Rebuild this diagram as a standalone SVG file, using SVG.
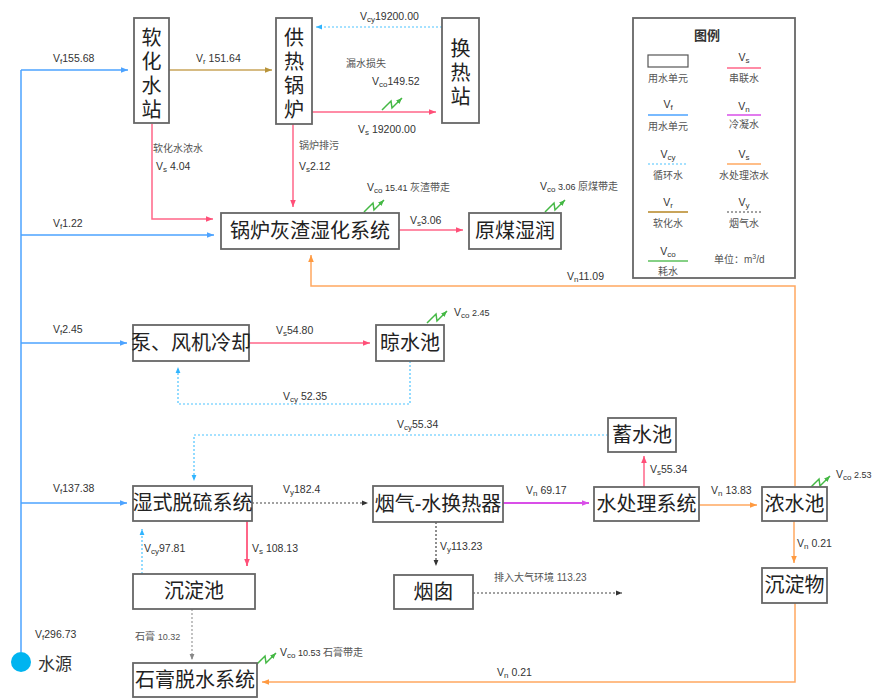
<svg xmlns="http://www.w3.org/2000/svg" width="881" height="699" viewBox="0 0 881 699">
<style>
text{font-family:"Liberation Sans","Noto Sans CJK SC",sans-serif;fill:#333}
.box{fill:#fff;stroke:#666;stroke-width:1.8}
.bt{font-size:20px;fill:#222;text-anchor:middle}
.lb{font-size:10.5px}
.cn{font-size:10px;fill:#555}
.sub{font-size:8px}
.ln{fill:none;stroke-width:1.5}
.blue{stroke:#4da3ff}
.pink{stroke:#ff6688}
.tan{stroke:#c8a45a}
.cyan{stroke:#4cc3ff;stroke-dasharray:2 2;stroke-width:1.2}
.orange{stroke:#ffa860}
.purple{stroke:#d94fe8;stroke-width:2}
.blk{stroke:#444;stroke-dasharray:2 2;stroke-width:1.2}
.gray{stroke:#999;stroke-dasharray:2 2;stroke-width:1.2}
.grn{fill:none;stroke:#44b844;stroke-width:1.5}
.lc{text-anchor:middle}
</style>
<defs>
<marker id="aBlue" viewBox="0 0 10 10" refX="10" refY="5" markerWidth="7" markerHeight="7" markerUnits="userSpaceOnUse" orient="auto"><path d="M0,1L10,5L0,9z" fill="#4da3ff"/></marker>
<marker id="aPink" viewBox="0 0 10 10" refX="10" refY="5" markerWidth="7" markerHeight="7" markerUnits="userSpaceOnUse" orient="auto"><path d="M0,1L10,5L0,9z" fill="#ff4f78"/></marker>
<marker id="aTan" viewBox="0 0 10 10" refX="10" refY="5" markerWidth="7" markerHeight="7" markerUnits="userSpaceOnUse" orient="auto"><path d="M0,1L10,5L0,9z" fill="#b8943a"/></marker>
<marker id="aCyan" viewBox="0 0 10 10" refX="10" refY="5" markerWidth="6" markerHeight="6" markerUnits="userSpaceOnUse" orient="auto"><path d="M0,1L10,5L0,9z" fill="#30b4ff"/></marker>
<marker id="aOrange" viewBox="0 0 10 10" refX="10" refY="5" markerWidth="7" markerHeight="7" markerUnits="userSpaceOnUse" orient="auto"><path d="M0,1L10,5L0,9z" fill="#ff9a40"/></marker>
<marker id="aPurple" viewBox="0 0 10 10" refX="10" refY="5" markerWidth="7" markerHeight="7" markerUnits="userSpaceOnUse" orient="auto"><path d="M0,1L10,5L0,9z" fill="#d94fe8"/></marker>
<marker id="aBlk" viewBox="0 0 10 10" refX="10" refY="5" markerWidth="6" markerHeight="6" markerUnits="userSpaceOnUse" orient="auto"><path d="M0,1L10,5L0,9z" fill="#333"/></marker>
<marker id="aGray" viewBox="0 0 10 10" refX="10" refY="5" markerWidth="6" markerHeight="6" markerUnits="userSpaceOnUse" orient="auto"><path d="M0,1L10,5L0,9z" fill="#888"/></marker>
<marker id="aGrn" viewBox="0 0 10 10" refX="10" refY="5" markerWidth="6" markerHeight="6" markerUnits="userSpaceOnUse" orient="auto"><path d="M0,1L10,5L0,9z" fill="#44b844"/></marker>
<path id="zz" d="M0,15L9,6L10,13L20,3" class="grn" marker-end="url(#aGrn)"/>
</defs>
<rect width="881" height="699" fill="#fff"/>

<g id="connectors">
<path class="ln blue" d="M21,652V70"/>
<path class="ln blue" d="M21,70H128" marker-end="url(#aBlue)"/>
<path class="ln blue" d="M21,235H214" marker-end="url(#aBlue)"/>
<path class="ln blue" d="M21,343H127" marker-end="url(#aBlue)"/>
<path class="ln blue" d="M21,503H127" marker-end="url(#aBlue)"/>
<path class="ln tan" d="M169,70H272" marker-end="url(#aTan)"/>
<path class="ln cyan" d="M442,27H316" marker-end="url(#aCyan)"/>
<path class="ln pink" d="M312,112H436" marker-end="url(#aPink)"/>
<path class="ln pink" d="M293,124V207" marker-end="url(#aPink)"/>
<path class="ln pink" d="M152,124V219H213" marker-end="url(#aPink)"/>
<path class="ln pink" d="M399,230H463" marker-end="url(#aPink)"/>
<path class="ln orange" d="M795,486V286H311V255" marker-end="url(#aOrange)"/>
<path class="ln pink" d="M249,343H370" marker-end="url(#aPink)"/>
<path class="ln cyan" d="M410,361V404H178V367" marker-end="url(#aCyan)"/>
<path class="ln cyan" d="M608,435H194V481" marker-end="url(#aCyan)"/>
<path class="ln blk" d="M252,503H368" marker-end="url(#aBlk)"/>
<path class="ln purple" d="M503,503H589" marker-end="url(#aPurple)"/>
<path class="ln pink" d="M644,487V456" marker-end="url(#aPink)"/>
<path class="ln orange" d="M699,505H757" marker-end="url(#aOrange)"/>
<path class="ln orange" d="M794,521V563" marker-end="url(#aOrange)"/>
<path class="ln orange" d="M795,603V682H262" marker-end="url(#aOrange)"/>
<path class="ln blk" d="M436,522V566" marker-end="url(#aBlk)"/>
<path class="ln blk" d="M473,593H622" marker-end="url(#aBlk)"/>
<path class="ln pink" d="M247,521V566" marker-end="url(#aPink)" style="stroke-width:2"/>
<path class="ln cyan" d="M142,574V529" marker-end="url(#aCyan)"/>
<path class="ln gray" d="M192,609V660" marker-end="url(#aGray)"/>
<use href="#zz" x="382" y="95"/>
<use href="#zz" x="364" y="197"/>
<use href="#zz" x="545" y="197"/>
<use href="#zz" x="427" y="308"/>
<use href="#zz" x="810" y="473"/>
<use href="#zz" x="256" y="650"/>
</g>

<g id="labels">
<text class="lb" x="53" y="62">V<tspan class="sub" dy="2">f</tspan><tspan dy="-2">155.68</tspan></text>
<text class="lb" x="196" y="62">V<tspan class="sub" dy="2">r</tspan><tspan dy="-2"> 151.64</tspan></text>
<text class="lb" x="360" y="20">V<tspan class="sub" dy="2">cy</tspan><tspan dy="-2">19200.00</tspan></text>
<text class="cn" x="346" y="67">漏水损失</text>
<text class="lb" x="372" y="85">V<tspan class="sub" dy="2">co</tspan><tspan dy="-2">149.52</tspan></text>
<text class="lb" x="358" y="133">V<tspan class="sub" dy="2">s</tspan><tspan dy="-2"> 19200.00</tspan></text>
<text class="cn" x="153" y="152">软化水浓水</text>
<text class="lb" x="156" y="170">V<tspan class="sub" dy="2">s</tspan><tspan dy="-2"> 4.04</tspan></text>
<text class="cn" x="299" y="149">锅炉排污</text>
<text class="lb" x="299" y="170">V<tspan class="sub" dy="2">s</tspan><tspan dy="-2">2.12</tspan></text>
<text class="lb" x="53" y="227">V<tspan class="sub" dy="2">f</tspan><tspan dy="-2">1.22</tspan></text>
<text class="lb" x="367" y="191">V<tspan class="sub" dy="2">co</tspan><tspan dy="-2" font-size="9"> 15.41 </tspan><tspan class="cn">灰渣带走</tspan></text>
<text class="lb" x="410" y="224">V<tspan class="sub" dy="2">s</tspan><tspan dy="-2">3.06</tspan></text>
<text class="lb" x="540" y="190">V<tspan class="sub" dy="2">co</tspan><tspan dy="-2" font-size="9"> 3.06 </tspan><tspan class="cn">原煤带走</tspan></text>
<text class="lb" x="567" y="280">V<tspan class="sub" dy="2">n</tspan><tspan dy="-2">11.09</tspan></text>
<text class="lb" x="53" y="333">V<tspan class="sub" dy="2">f</tspan><tspan dy="-2">2.45</tspan></text>
<text class="lb" x="276" y="334">V<tspan class="sub" dy="2">s</tspan><tspan dy="-2">54.80</tspan></text>
<text class="lb" x="454" y="316">V<tspan class="sub" dy="2">co</tspan><tspan dy="-2" font-size="9"> 2.45</tspan></text>
<text class="lb" x="283" y="400">V<tspan class="sub" dy="2">cy</tspan><tspan dy="-2">  52.35</tspan></text>
<text class="lb" x="397" y="428">V<tspan class="sub" dy="2">cy</tspan><tspan dy="-2">55.34</tspan></text>
<text class="lb" x="53" y="492">V<tspan class="sub" dy="2">f</tspan><tspan dy="-2">137.38</tspan></text>
<text class="lb" x="283" y="493">V<tspan class="sub" dy="2">y</tspan><tspan dy="-2">182.4</tspan></text>
<text class="lb" x="526" y="494">V<tspan class="sub" dy="2">n</tspan><tspan dy="-2"> 69.17</tspan></text>
<text class="lb" x="650" y="473">V<tspan class="sub" dy="2">s</tspan><tspan dy="-2">55.34</tspan></text>
<text class="lb" x="711" y="494">V<tspan class="sub" dy="2">n</tspan><tspan dy="-2"> 13.83</tspan></text>
<text class="lb" x="836" y="478">V<tspan class="sub" dy="2">co</tspan><tspan dy="-2" font-size="9"> 2.53</tspan></text>
<text class="lb" x="144" y="552">V<tspan class="sub" dy="2">cy</tspan><tspan dy="-2">97.81</tspan></text>
<text class="lb" x="252" y="552">V<tspan class="sub" dy="2">s</tspan><tspan dy="-2"> 108.13</tspan></text>
<text class="lb" x="440" y="550">V<tspan class="sub" dy="2">y</tspan><tspan dy="-2">113.23</tspan></text>
<text class="lb" x="797" y="547">V<tspan class="sub" dy="2">n</tspan><tspan dy="-2"> 0.21</tspan></text>
<text class="cn" x="494" y="581">排入大气环境 <tspan font-size="10">113.23</tspan></text>
<text class="lb" x="35" y="638">V<tspan class="sub" dy="2">f</tspan><tspan dy="-2">296.73</tspan></text>
<text class="cn" x="135" y="640">石膏 <tspan font-size="9">10.32</tspan></text>
<text class="lb" x="280" y="656">V<tspan class="sub" dy="2">co</tspan><tspan dy="-2" font-size="9"> 10.53  </tspan><tspan class="cn">石膏带走</tspan></text>
<text class="lb" x="497" y="676">V<tspan class="sub" dy="2">n</tspan><tspan dy="-2"> 0.21</tspan></text>
</g>

<g id="n-source"><circle cx="21" cy="662" r="10" fill="#00b4f0"/><text x="38" y="670" font-size="17" fill="#222">水源</text></g>
<g id="n-soft"><rect class="box" x="134" y="18" width="35" height="105"/>
<text class="bt" x="151.5" y="45">软</text><text class="bt" x="151.5" y="69">化</text><text class="bt" x="151.5" y="93">水</text><text class="bt" x="151.5" y="117">站</text></g>
<g id="n-boiler"><rect class="box" x="276" y="18" width="36" height="106"/>
<text class="bt" x="294" y="45">供</text><text class="bt" x="294" y="69">热</text><text class="bt" x="294" y="93">锅</text><text class="bt" x="294" y="117">炉</text></g>
<g id="n-hx"><rect class="box" x="442" y="18" width="37" height="105"/>
<text class="bt" x="460.5" y="56">换</text><text class="bt" x="460.5" y="80">热</text><text class="bt" x="460.5" y="104">站</text></g>
<g id="n-ash"><rect class="box" x="221" y="213" width="178" height="36"/><text class="bt" x="310" y="238">锅炉灰渣湿化系统</text></g>
<g id="n-coal"><rect class="box" x="469" y="213" width="92" height="36"/><text class="bt" x="515" y="238">原煤湿润</text></g>
<g id="n-pump"><rect class="box" x="133" y="325" width="116" height="36"/><text class="bt" x="191" y="350">泵、风机冷却</text></g>
<g id="n-cool"><rect class="box" x="376" y="325" width="68" height="36"/><text class="bt" x="410" y="350">晾水池</text></g>
<g id="n-store"><rect class="box" x="608" y="418" width="68" height="34"/><text class="bt" x="642" y="442">蓄水池</text></g>
<g id="n-fgd"><rect class="box" x="133" y="486" width="119" height="35"/><text class="bt" x="192.5" y="510">湿式脱硫系统</text></g>
<g id="n-fgx"><rect class="box" x="373" y="486" width="130" height="36"/><text class="bt" x="438" y="511">烟气-水换热器</text></g>
<g id="n-wt"><rect class="box" x="594" y="487" width="105" height="34"/><text class="bt" x="646.5" y="511">水处理系统</text></g>
<g id="n-conc"><rect class="box" x="762" y="487" width="65" height="34"/><text class="bt" x="794.5" y="511">浓水池</text></g>
<g id="n-sed"><rect class="box" x="133" y="574" width="122" height="35"/><text class="bt" x="194" y="598">沉淀池</text></g>
<g id="n-chim"><rect class="box" x="394" y="575" width="79" height="34"/><text class="bt" x="433.5" y="599">烟囱</text></g>
<g id="n-sludge"><rect class="box" x="762" y="568" width="65" height="35"/><text class="bt" x="794.5" y="592">沉淀物</text></g>
<g id="n-gyp"><rect class="box" x="133" y="663" width="124" height="34"/><text class="bt" x="195" y="687">石膏脱水系统</text></g>

<g id="legend">
<rect class="box" x="633" y="18" width="162" height="260"/>
<text x="707" y="40" font-size="13" font-weight="bold" class="lc" fill="#222">图例</text>
<rect x="648" y="55" width="40" height="12" fill="#fff" stroke="#555" stroke-width="1.2"/>
<text class="cn lc" x="668" y="82" font-size="9">用水单元</text>
<text class="lb lc" x="744" y="61">V<tspan class="sub" dy="2">s</tspan></text>
<path class="ln pink" d="M727,68H761"/>
<text class="cn lc" x="744" y="82" font-size="9">串联水</text>
<text class="lb lc" x="668" y="108">V<tspan class="sub" dy="2">f</tspan></text>
<path class="ln blue" d="M648,115H688"/>
<text class="cn lc" x="668" y="130" font-size="9">用水单元</text>
<text class="lb lc" x="744" y="110">V<tspan class="sub" dy="2">n</tspan></text>
<path class="ln purple" d="M727,115H761" style="stroke-width:1.5"/>
<text class="cn lc" x="744" y="128" font-size="9">冷凝水</text>
<text class="lb lc" x="668" y="158">V<tspan class="sub" dy="2">cy</tspan></text>
<path class="ln cyan" d="M648,164H688"/>
<text class="cn lc" x="668" y="179" font-size="9">循环水</text>
<text class="lb lc" x="744" y="158">V<tspan class="sub" dy="2">s</tspan></text>
<path class="ln orange" d="M727,164H761"/>
<text class="cn lc" x="744" y="179" font-size="9">水处理浓水</text>
<text class="lb lc" x="668" y="206">V<tspan class="sub" dy="2">r</tspan></text>
<path class="ln tan" d="M648,212H688" style="stroke-width:2"/>
<text class="cn lc" x="668" y="227" font-size="9">软化水</text>
<text class="lb lc" x="744" y="206">V<tspan class="sub" dy="2">y</tspan></text>
<path class="ln blk" d="M727,212H761" style="stroke-width:1"/>
<text class="cn lc" x="744" y="227" font-size="9">烟气水</text>
<text class="lb lc" x="668" y="255">V<tspan class="sub" dy="2">co</tspan></text>
<path class="ln" d="M648,261H688" stroke="#5cc05c"/>
<text class="cn lc" x="668" y="275" font-size="9">耗水</text>
<text class="cn" x="714" y="263" font-size="11">单位：m<tspan font-size="7" dy="-4">3</tspan><tspan dy="4">/d</tspan></text>
</g>
</svg>
